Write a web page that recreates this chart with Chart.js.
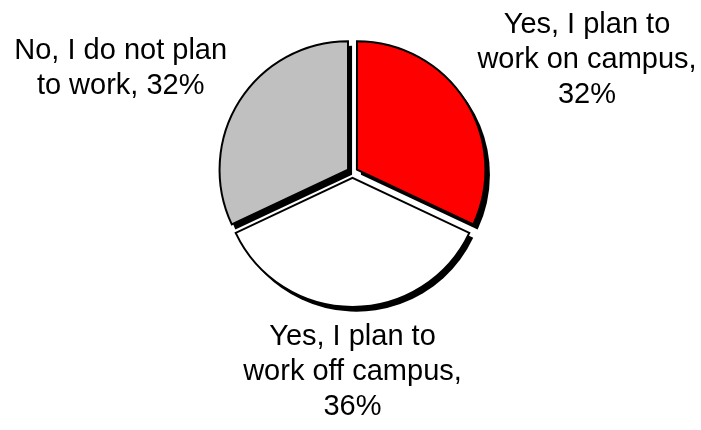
<!DOCTYPE html>
<html>
<head>
<meta charset="utf-8">
<script src="https://cdn.jsdelivr.net/npm/chart.js@4.4.0/dist/chart.umd.min.js"></script>
<style>
	html, body { margin: 0; padding: 0; background: #fff; }
	#wrap { width: 701px; height: 430px; }
</style>
</head>
<body>
<div id="wrap"><canvas id="pie" width="701" height="430"></canvas></div>
<script>
var categories = ['Yes, I plan to work on campus', 'Yes, I plan to work off campus', 'No, I do not plan to work'];
var values = [32, 36, 32];
var colors = ['#ff0000', '#ffffff', '#c0c0c0'];

var labelFont = '29px "Liberation Sans", Arial, sans-serif';
var lineH = 35;
var wrapWidth = 226;

function wrapText(ctx, text, maxW) {
	var words = text.split(' ');
	var lines = [];
	var cur = '';
	for (var i = 0; i < words.length; i++) {
		var test = cur ? cur + ' ' + words[i] : words[i];
		if (cur && ctx.measureText(test).width > maxW) {
			lines.push(cur);
			cur = words[i];
		} else {
			cur = test;
		}
	}
	if (cur) lines.push(cur);
	return lines;
}

// black drop shadow under each exploded slice
var sliceShadow = {
	id: 'sliceShadow',
	beforeDatasetsDraw: function(chart) {
		var ctx = chart.ctx;
		ctx.save();
		ctx.fillStyle = '#000';
		chart.getDatasetMeta(0).data.forEach(function(arc) {
			var mid = (arc.startAngle + arc.endAngle) / 2;
			var shift = arc.options.offset / 4;
			var x = arc.x + Math.cos(mid) * shift + 4;
			var y = arc.y + Math.sin(mid) * shift + 5;
			ctx.beginPath();
			ctx.moveTo(x, y);
			ctx.arc(x, y, arc.outerRadius + arc.options.borderWidth / 2, arc.startAngle, arc.endAngle);
			ctx.closePath();
			ctx.fill();
		});
		ctx.restore();
	}
};

// category + percent labels outside the slices
var outsideLabels = {
	id: 'outsideLabels',
	afterDatasetsDraw: function(chart) {
		var ctx = chart.ctx;
		var total = values.reduce(function(a, b) { return a + b; }, 0);
		ctx.save();
		ctx.font = labelFont;
		ctx.fillStyle = '#000';
		ctx.textAlign = 'center';
		ctx.textBaseline = 'middle';
		chart.getDatasetMeta(0).data.forEach(function(arc, i) {
			var text = categories[i] + ', ' + Math.round(values[i] / total * 100) + '%';
			var lines = wrapText(ctx, text, wrapWidth);
			var w = 0;
			lines.forEach(function(l) { w = Math.max(w, ctx.measureText(l).width); });
			var h = lines.length * lineH;
			var mid = (arc.startAngle + arc.endAngle) / 2;
			var dx = Math.cos(mid), dy = Math.sin(mid);
			var dist = arc.options.offset / 4 + arc.outerRadius + 14 + 20 * Math.abs(dx);
			var cx = arc.x + dx * dist + dx * (w / 2 + 4);
			var cy = arc.y + dy * dist + dy * h / 2 * (1 - 0.15 * Math.abs(dx));
			lines.forEach(function(l, k) {
				ctx.fillText(l, cx, cy - h / 2 + lineH * (k + 0.5));
			});
		});
		ctx.restore();
	}
};

var chart = new Chart(document.getElementById('pie'), {
	type: 'pie',
	data: {
		labels: categories,
		datasets: [{
			data: values,
			backgroundColor: colors,
			borderColor: '#000',
			borderWidth: 2,
			borderJoinStyle: 'miter',
			offset: 21,
			hoverOffset: 0
		}]
	},
	options: {
		responsive: false,
		animation: false,
		events: [],
		radius: 128,
		layout: { padding: { left: 4, right: 0, top: 0, bottom: 85 } },
		plugins: {
			legend: { display: false },
			tooltip: { enabled: false }
		}
	},
	plugins: [sliceShadow, outsideLabels]
});
</script>
</body>
</html>
